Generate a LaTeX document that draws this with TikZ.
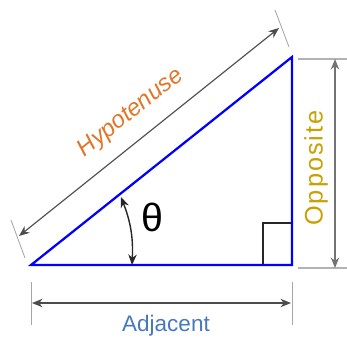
\documentclass[tikz,border=0pt]{standalone}
\usepackage{fontspec}
\setmainfont{Liberation Sans}
\usetikzlibrary{calc, arrows.meta}

\definecolor{hypcolor}{RGB}{226,118,40}
\definecolor{oppcolor}{RGB}{200,160,0}
\definecolor{adjcolor}{RGB}{70,120,190}

\begin{document}
\begin{tikzpicture}[x=0.025cm, y=-0.025cm, >={Stealth[length=7.5pt, width=6pt]}]

  % Styles for sides and dimension lines
  \tikzset{
    side/.style={line width=1.6pt, blue},
    extline/.style={gray!70, line width=0.6pt},
    dimarrow/.style={<->, line width=0.8pt, black!70},
  }

  \useasboundingbox (0,0) rectangle (347,345);

  % Coordinates for the right triangle
  \coordinate (A) at (31,265);
  \coordinate (B) at (292,265);
  \coordinate (C) at (292,57);

  % Right angle mark at B
  \draw[line width=1pt, black!85] ($(B)+(-29,0)$) -- ($(B)+(-29,-42)$) -- ($(B)+(0,-42)$);

  % Triangle sides
  \draw[side, line join=miter] (A) -- (B) -- (C) -- cycle;

  % Hypotenuse dimension
  \coordinate (H1) at (19,236);
  \coordinate (H2) at (279,28);
  \draw[extline] (11,220) -- (25,258);
  \draw[extline] (275,10) -- (289,47);
  \draw[dimarrow] (H1) -- (H2);
  \node[text=hypcolor, font=\fontsize{17}{20}\selectfont\itshape, rotate=38.6, inner sep=1pt] (hyp) at (131,113) {Hypotenuse};

  % Opposite dimension
  \coordinate (O1) at (335,59);
  \coordinate (O2) at (335,268);
  \draw[gray!60, line width=1.2pt] (298,59) -- (347,59);
  \draw[gray!60, line width=1.2pt] (298,268) -- (347,268);
  \draw[dimarrow, black!55] (O1) -- (O2);
  \node[text=oppcolor, font=\fontsize{18}{20}\selectfont\addfontfeatures{LetterSpace=8}, rotate=90] (opp) at (316,168) {Opposite};

  % Adjacent dimension
  \coordinate (D1) at (32,303);
  \coordinate (D2) at (291,303);
  \draw[extline] (31,282) -- (31,325);
  \draw[extline] (292,282) -- (292,325);
  \draw[dimarrow] (D1) -- (D2);
  \node[text=adjcolor, font=\fontsize{16}{20}\selectfont] (adj) at (166,326) {Adjacent};

  % Angle marker
  \coordinate (T1) at (132,265);
  \coordinate (T2) at (121,197);
  \draw[<->, line width=1pt, black!85] (T1) to[bend right=12] (T2);
  \node[font=\fontsize{28}{32}\selectfont] (theta) at (152,217) {θ};

\end{tikzpicture}
\end{document}
